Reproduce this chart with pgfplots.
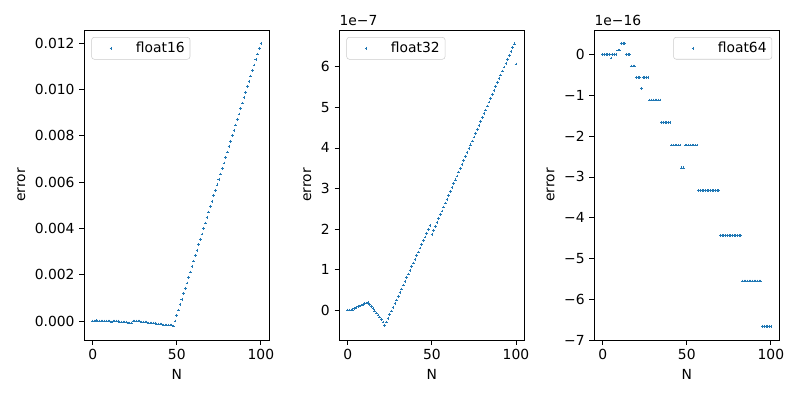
\documentclass[border=0pt]{standalone}
\usepackage{pgfplots}
\pgfplotsset{compat=1.18}
\usepackage{fontspec}
\setmainfont{DejaVu Sans}
\definecolor{tabblue}{HTML}{1F77B4}
\pgfplotsset{
  myax/.style={
    scale only axis, width=138.75pt, height=232.5pt,
    anchor=south west, clip mode=individual,
    xmin=-5, xmax=105, xtick={0,50,100},
    xtick pos=bottom, ytick pos=left, tick align=outside,
    major tick length=3.6pt,
    every tick/.style={line width=0.6pt, black},
    axis line style={line width=0.6pt},
    /pgf/number format/assume math mode=true,
    scaled y ticks=false,
    xlabel={N}, ylabel={error},
    legend cell align=left,
    legend style={draw=white!80!black, rounded corners=2pt, fill=white, fill opacity=0.8, text opacity=1,
      inner xsep=4pt, inner ysep=1pt, column sep=8pt, nodes={inner xsep=0pt, inner ysep=2.5pt}},
    legend image code/.code={\path (0pt,0pt) (20.8pt,0pt); \draw[##1] plot coordinates {(10.4pt,0pt)};},
  },
  mymark/.style={only marks, mark=+, mark size=1pt, color=tabblue, mark options={line width=0.45pt}},
}
\begin{document}
\fontsize{10.4pt}{12.5pt}\selectfont
\begin{tikzpicture}
\useasboundingbox (0,0) rectangle (600pt,298.5pt);
% float16
\begin{axis}[myax, at={(63.2pt,43.5pt)},
  ymin=-0.00082, ymax=0.01257,
  ytick={0,0.002,0.004,0.006,0.008,0.010,0.012},
  yticklabels={0.000,0.002,0.004,0.006,0.008,0.010,0.012},
  legend style={at={(rel axis cs:0,1)}, anchor=north west, xshift=5.3pt, yshift=-5.3pt}]
\addplot[mymark] coordinates {
(0,0)(1,0)(2,0.00002)(3,0)(4,0)(5,0)(6,0)(7,0)(8,0)(9,0)(10,0)(11,-0.000043)(12,0)(13,0)(14,0)(15,0)
(16,-0.000043)(17,-0.000043)(18,-0.000043)(19,-0.000043)(20,-0.000043)(21,-0.000086)(22,-0.000086)(23,-0.000086)
(24,0)(25,0)(26,0)(27,0)(28,0)(29,-0.000043)(30,-0.000043)(31,-0.000043)(32,-0.000043)
(33,-0.000086)(34,-0.000086)(35,-0.000086)(36,-0.000086)(37,-0.000086)(38,-0.00013)(39,-0.00013)(40,-0.00013)(41,-0.00013)
(42,-0.00017)(43,-0.00017)(44,-0.00017)(45,-0.00017)(46,-0.00017)(47,-0.00017)(48,-0.00022)(49,0)
(50,0.000235)(51,0.000471)(52,0.000706)(53,0.000941)(54,0.001176)(55,0.001412)(56,0.001647)(57,0.001882)(58,0.002118)(59,0.002353)
(60,0.002588)(61,0.002824)(62,0.003059)(63,0.003294)(64,0.003529)(65,0.003765)(66,0.004000)(67,0.004235)(68,0.004471)(69,0.004706)
(70,0.004941)(71,0.005176)(72,0.005412)(73,0.005647)(74,0.005882)(75,0.006118)(76,0.006353)(77,0.006588)(78,0.006824)(79,0.007059)
(80,0.007294)(81,0.007529)(82,0.007765)(83,0.008000)(84,0.008235)(85,0.008471)(86,0.008706)(87,0.008941)(88,0.009176)(89,0.009412)
(90,0.009647)(91,0.009882)(92,0.010118)(93,0.010353)(94,0.010588)(95,0.010824)(96,0.011059)(97,0.011294)(98,0.011529)(99,0.011765)
(100,0.012000)};
\addlegendentry{float16}
\end{axis}
% float32
\begin{axis}[myax, at={(254.5pt,43.5pt)},
  ymin=-0.74, ymax=6.91, ytick={0,1,2,3,4,5,6},
  legend style={at={(rel axis cs:0,1)}, anchor=north west, xshift=5.3pt, yshift=-5.3pt}]
\addplot[mymark] coordinates {
(0,0)(1,0)(2,0)(3,0.005)(4,0.033)(5,0.056)(6,0.08)(7,0.10)(8,0.12)(9,0.14)(10,0.156)(11,0.17)(12,0.19)
(13,0.14)(14,0.09)(15,0.04)(16,-0.02)(17,-0.07)(18,-0.12)(19,-0.17)(20,-0.23)(21,-0.30)(22,-0.38)(23,-0.30)
(24,-0.209)(25,-0.117)(26,-0.026)(27,0.065)(28,0.157)(29,0.248)(30,0.339)(31,0.430)(32,0.522)(33,0.613)
(34,0.704)(35,0.796)(36,0.887)(37,0.978)(38,1.069)(39,1.161)(40,1.252)(41,1.343)(42,1.435)(43,1.526)
(44,1.617)(45,1.709)(46,1.80)(47,1.89)(48,1.99)(49,2.09)
(50,1.870)(51,1.966)(52,2.062)(53,2.158)(54,2.254)(55,2.350)(56,2.445)(57,2.541)(58,2.637)(59,2.733)
(60,2.829)(61,2.925)(62,3.021)(63,3.117)(64,3.213)(65,3.309)(66,3.404)(67,3.500)(68,3.596)(69,3.692)
(70,3.788)(71,3.884)(72,3.980)(73,4.076)(74,4.172)(75,4.268)(76,4.363)(77,4.459)(78,4.555)(79,4.651)
(80,4.747)(81,4.843)(82,4.939)(83,5.035)(84,5.131)(85,5.227)(86,5.322)(87,5.418)(88,5.514)(89,5.610)
(90,5.706)(91,5.802)(92,5.898)(93,5.994)(94,6.090)(95,6.186)(96,6.281)(97,6.377)(98,6.473)(99,6.569)
(100,6.07)};
\addlegendentry{float32}
\node[anchor=south west, inner sep=0pt, yshift=3pt] at (rel axis cs:0,1) {1e−7};
\end{axis}
% float64
\begin{axis}[myax, at={(445.7pt,43.5pt)},
  ymin=-7.0, ymax=0.605, ytick={-7,-6,-5,-4,-3,-2,-1,0},
  yticklabels={−7,−6,−5,−4,−3,−2,−1,0},
  legend style={at={(rel axis cs:1,1)}, anchor=north east, xshift=-5.3pt, yshift=-5.3pt}]
\addplot[mymark] coordinates {
(0,0)(1,0)(2,0)(3,0)(4,0)(5,-0.083)(6,0)(7,0)(8,0)(9,0.111)(10,0.111)(11,0.278)(12,0.278)(13,0.278)
(14,0)(15,0)(16,0)(17,-0.278)(18,-0.278)(19,-0.278)(20,-0.555)(21,-0.555)(22,-0.555)(23,-0.833)
(24,-0.555)(25,-0.555)(26,-0.555)(27,-0.555)
(28,-1.110)(29,-1.110)(30,-1.110)(31,-1.110)(32,-1.110)(33,-1.110)(34,-1.110)
(35,-1.665)(36,-1.665)(37,-1.665)(38,-1.665)(39,-1.665)(40,-1.665)
(41,-2.220)(42,-2.220)(43,-2.220)(44,-2.220)(45,-2.220)(46,-2.220)(47,-2.776)(48,-2.776)
(49,-2.220)(50,-2.220)(51,-2.220)(52,-2.220)(53,-2.220)(54,-2.220)(55,-2.220)(56,-2.220)
(57,-3.331)(58,-3.331)(59,-3.331)(60,-3.331)(61,-3.331)(62,-3.331)(63,-3.331)(64,-3.331)(65,-3.331)(66,-3.331)(67,-3.331)(68,-3.331)(69,-3.331)
(70,-4.441)(71,-4.441)(72,-4.441)(73,-4.441)(74,-4.441)(75,-4.441)(76,-4.441)(77,-4.441)(78,-4.441)(79,-4.441)(80,-4.441)(81,-4.441)(82,-4.441)
(83,-5.551)(84,-5.551)(85,-5.551)(86,-5.551)(87,-5.551)(88,-5.551)(89,-5.551)(90,-5.551)(91,-5.551)(92,-5.551)(93,-5.551)(94,-5.551)
(95,-6.661)(96,-6.661)(97,-6.661)(98,-6.661)(99,-6.661)(100,-6.661)};
\addlegendentry{float64}
\node[anchor=south west, inner sep=0pt, yshift=3pt] at (rel axis cs:0,1) {1e−16};
\end{axis}
\end{tikzpicture}
\end{document}
